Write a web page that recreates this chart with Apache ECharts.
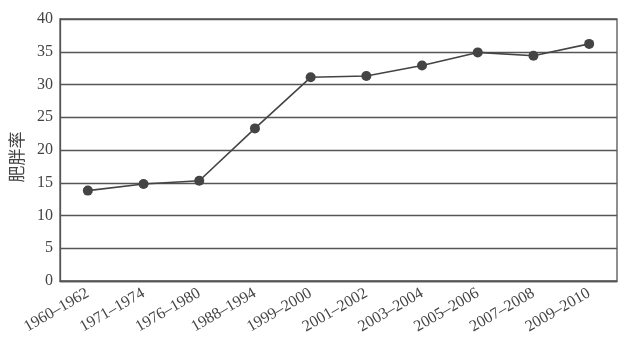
<!DOCTYPE html>
<html>
<head>
<meta charset="utf-8">
<script src="https://cdn.jsdelivr.net/npm/echarts@6/dist/echarts.min.js"></script>
<style>
html,body{margin:0;padding:0;background:#fff;}
#c{width:629px;height:343px;}
</style>
</head>
<body>
<div id="c"></div>
<script>
var categories = ['1960–1962','1971–1974','1976–1980','1988–1994','1999–2000','2001–2002','2003–2004','2005–2006','2007–2008','2009–2010'];
var obesityRate = [13.8, 14.8, 15.3, 23.3, 31.1, 31.3, 32.9, 34.9, 34.4, 36.2];
var yTicks = {min: 0, max: 40, interval: 5};
var yName = '肥胖率';

var chart = echarts.init(document.getElementById('c'), null, {renderer: 'canvas'});
chart.setOption({
  backgroundColor: '#fff',
  animation: false,
  grid: {left: 59, right: 12, top: 19, bottom: 62, show: true, borderColor: '#555', borderWidth: 1.3, backgroundColor: 'transparent'},
  xAxis: {
    type: 'category',
    data: categories,
    boundaryGap: true,
    axisLine: {lineStyle: {color: '#555', width: 1.3}},
    axisTick: {inside: true, length: 5, lineStyle: {color: '#555', width: 1.3}},
    axisLabel: {rotate: 30, interval: 0, margin: 11, fontFamily: 'Liberation Serif', fontSize: 16, color: '#444'}
  },
  yAxis: {
    type: 'value',
    min: yTicks.min, max: yTicks.max, interval: yTicks.interval,
    name: yName,
    nameLocation: 'middle',
    nameGap: 35,
    nameRotate: 90,
    nameTextStyle: {fontFamily: 'Noto Sans CJK SC', fontSize: 17, color: '#444', padding: [0,14,0,0]},
    axisLine: {show: true, lineStyle: {color: '#555', width: 1.3}},
    axisTick: {show: false},
    splitLine: {lineStyle: {color: '#555', width: 1.3}},
    axisLabel: {margin: 7, fontFamily: 'Liberation Serif', fontSize: 16, color: '#444'}
  },
  series: [{
    type: 'line',
    data: obesityRate,
    symbol: 'circle',
    symbolSize: 10,
    lineStyle: {color: '#444', width: 1.6},
    itemStyle: {color: '#444'}
  }]
});
</script>
</body>
</html>
